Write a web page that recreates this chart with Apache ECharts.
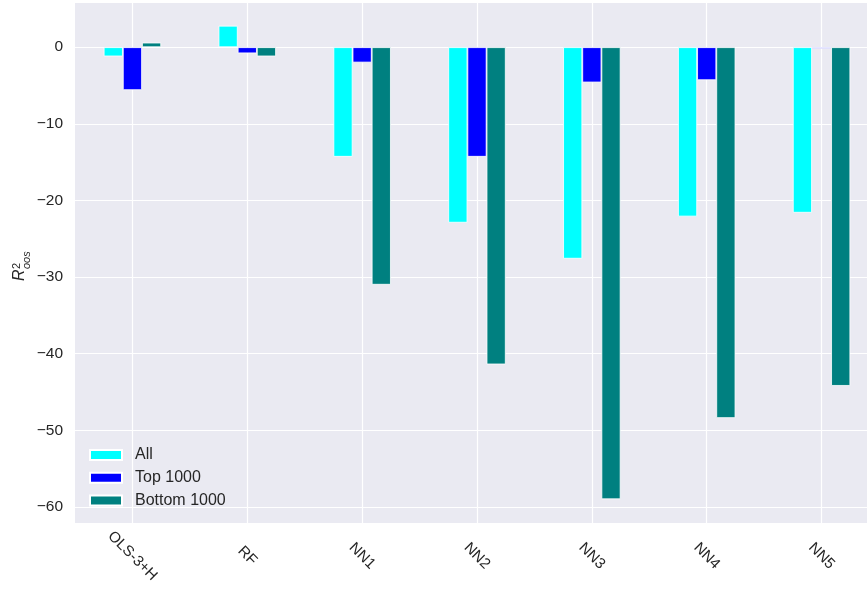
<!DOCTYPE html>
<html>
<head>
<meta charset="utf-8">
<script src="https://cdn.jsdelivr.net/npm/echarts@6/dist/echarts.min.js"></script>
<style>
  html, body { margin: 0; padding: 0; background: #fff; }
  #chart { width: 867px; height: 592px; }
</style>
</head>
<body>
<div id="chart"></div>
<script>
// models on the x axis
const categories = ["OLS-3+H", "RF", "NN1", "NN2", "NN3", "NN4", "NN5"];
// R2 oos per group
const allStocks = [-1.2, 2.8, -14.3, -22.9, -27.6, -22.1, -21.6];
const top1000 = [-5.6, -0.8, -2.0, -14.3, -4.6, -4.3, -0.2];
const bottom1000 = [0.6, -1.2, -31.0, -41.4, -59.0, -48.4, -44.2];
const seriesNames = ["All", "Top 1000", "Bottom 1000"];
const colors = ["#00ffff", "#0000ff", "#008080"];

const chart = echarts.init(document.getElementById("chart"));

const txt = "#262626";
const font = "Liberation Sans, Arial, sans-serif";

const option = {
  animation: false,
  color: colors,
  textStyle: { fontFamily: font },
  grid: {
    left: 75,
    top: 2,
    width: 804,
    height: 521,
    outerBoundsMode: "none",
    show: true,
    backgroundColor: "#eaeaf2",
    borderWidth: 0
  },
  legend: {
    orient: "vertical",
    left: 89,
    top: 446,
    padding: 0,
    itemWidth: 32,
    itemHeight: 10,
    itemGap: 4.7,
    icon: "rect",
    textStyle: {
      color: txt,
      fontSize: 16,
      lineHeight: 18,
      padding: [0, 0, 0, 8],
      fontFamily: font
    },
    data: seriesNames
  },
  xAxis: {
    type: "category",
    data: categories,
    axisLine: { show: false },
    axisTick: { show: false },
    splitLine: {
      show: true,
      alignWithLabel: true,
      lineStyle: { color: "#ffffff", width: 1.2 }
    },
    axisLabel: {
      rotate: -45,
      align: "center",
      verticalAlign: "middle",
      margin: 33,
      color: txt,
      fontSize: 15,
      fontFamily: font
    }
  },
  yAxis: {
    type: "value",
    min: -62.1,
    max: 5.9,
    axisLine: { show: false },
    axisTick: { show: false },
    splitLine: { lineStyle: { color: "#ffffff", width: 1.2 } },
    axisLabel: {
      showMinLabel: false,
      showMaxLabel: false,
      margin: 12,
      color: txt,
      fontSize: 15.5,
      fontFamily: font,
      formatter: v => (v < 0 ? "\u2212" + (-v) : String(v))
    }
  },
  graphic: [
    {
      type: "group",
      x: 28,
      y: 281,
      rotation: Math.PI / 2,
      children: [
        { type: "text", x: 0, y: 0, style: { text: "R", fontSize: 16, fontStyle: "italic", fontFamily: font, fill: txt, textVerticalAlign: "bottom" } },
        { type: "text", x: 12, y: -6, style: { text: "2", fontSize: 11, fontFamily: font, fill: txt, textVerticalAlign: "bottom" } },
        { type: "text", x: 12, y: 4, style: { text: "oos", fontSize: 11, fontStyle: "italic", fontFamily: font, fill: txt, textVerticalAlign: "bottom" } }
      ]
    }
  ],
  series: [allStocks, top1000, bottom1000].map((vals, i) => ({
    name: seriesNames[i],
    type: "bar",
    data: vals,
    barWidth: "16.67%",
    barGap: "0%",
    itemStyle: { borderColor: "#ffffff", borderWidth: 0.8 }
  }))
};

chart.setOption(option);
</script>
</body>
</html>
